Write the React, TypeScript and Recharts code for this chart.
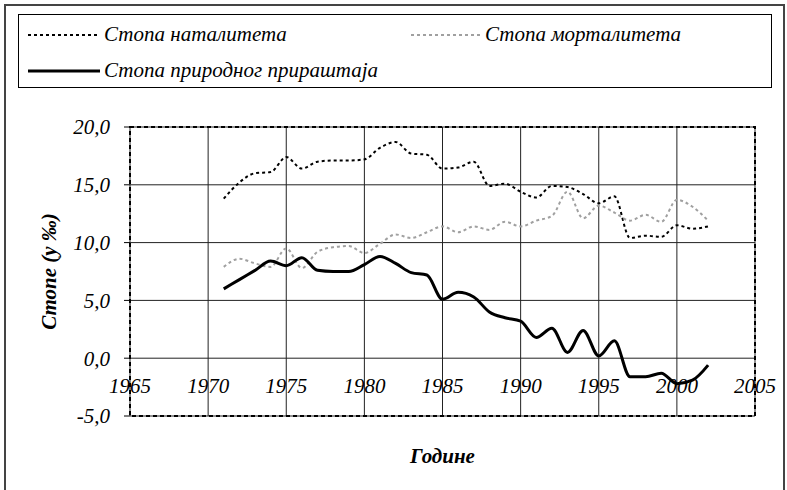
import React from 'react';
import {
  LineChart,
  Line,
  XAxis,
  YAxis,
  CartesianGrid,
  ReferenceArea
} from 'recharts';

// years 1971-2002
const years = [
  1971, 1972, 1973, 1974, 1975, 1976, 1977, 1978, 1979, 1980,
  1981, 1982, 1983, 1984, 1985, 1986, 1987, 1988, 1989, 1990,
  1991, 1992, 1993, 1994, 1995, 1996, 1997, 1998, 1999, 2000,
  2001, 2002
];

// стопа наталитета (‰)
const natality = [
  13.8, 15.2, 16.0, 16.1, 17.4, 16.4, 17.0, 17.1, 17.1, 17.2,
  18.2, 18.7, 17.7, 17.6, 16.4, 16.5, 17.0, 14.9, 15.1, 14.4,
  13.9, 14.9, 14.8, 14.2, 13.4, 14.0, 10.4, 10.6, 10.5, 11.5,
  11.2, 11.4
];

// стопа морталитета (‰)
const mortality = [
  7.9, 8.6, 8.2, 7.9, 9.5, 7.8, 9.2, 9.6, 9.7, 9.1,
  9.9, 10.7, 10.4, 10.9, 11.4, 10.9, 11.4, 11.1, 11.8, 11.4,
  11.9, 12.3, 14.4, 12.1, 13.2, 12.6, 11.9, 12.4, 11.8, 13.7,
  13.1, 11.9
];

// стопа природног прираштаја (‰)
const naturalIncrease = [
  6.0, 6.8, 7.6, 8.4, 8.0, 8.7, 7.6, 7.5, 7.5, 8.1,
  8.8, 8.2, 7.4, 7.2, 5.1, 5.7, 5.3, 4.0, 3.5, 3.2,
  1.8, 2.6, 0.5, 2.4, 0.2, 1.5, -1.6, -1.6, -1.3, -2.2,
  -1.9, -0.6
];

const xTicks = [1965, 1970, 1975, 1980, 1985, 1990, 1995, 2000, 2005];
const yTicks = [-5, 0, 5, 10, 15, 20];

const data = years.map((year, i) => ({
  year,
  natality: natality[i],
  mortality: mortality[i],
  increase: naturalIncrease[i]
}));

const FONT = '"Liberation Serif", "Times New Roman", serif';

const fmt = (v: number) => v.toFixed(1).replace('.', ',');

// x labels sit just under the zero line, not at the bottom of the plot
const XTick = ({ x, y, payload }: any) => (
  <text
    x={x}
    y={y - 31}
    textAnchor="middle"
    fontFamily={FONT}
    fontStyle="italic"
    fontSize={21}
    fill="#000"
  >
    {payload.value}
  </text>
);

const LegendItem = ({ color, width, dash, label, lineW = 76 }: any) => (
  <div style={{ display: 'flex', alignItems: 'center' }}>
    <svg width={lineW} height={10} style={{ marginRight: 2 }}>
      <line x1={2} y1={5} x2={lineW - 2} y2={5} stroke={color} strokeWidth={width} strokeDasharray={dash} />
    </svg>
    <span>{label}</span>
  </div>
);

export default function App() {
  return (
    <div style={{ position: 'relative', width: 787, height: 490, background: '#fff', overflow: 'hidden' }}>
      <style>{'body{margin:0}'}</style>
      <div
        style={{
          position: 'absolute',
          left: 4,
          top: 4,
          width: 777,
          height: 500,
          border: '2px solid #444'
        }}
      />
      <div
        style={{
          position: 'absolute',
          left: 18,
          top: 14,
          width: 752,
          height: 72,
          border: '1px solid #000',
          fontFamily: FONT,
          fontStyle: 'italic',
          fontSize: 21,
          color: '#000'
        }}
      >
        <div style={{ position: 'absolute', left: 7, top: 7 }}>
          <LegendItem color="#000" width={2} dash="3 3" label="Стопа наталитета" />
        </div>
        <div style={{ position: 'absolute', left: 390, top: 7 }}>
          <LegendItem color="#a0a0a0" width={2} dash="3 3" lineW={74} label="Стопа морталитета" />
        </div>
        <div style={{ position: 'absolute', left: 7, top: 43 }}>
          <LegendItem color="#000" width={3} label="Стопа природног прираштаја" />
        </div>
      </div>
      <div style={{ position: 'absolute', left: 0, top: 0 }}>
        <LineChart width={787} height={490} data={data} margin={{ top: 127, right: 32, left: 35, bottom: 14 }}>
          <CartesianGrid stroke="#222" strokeWidth={1} />
          <XAxis
            dataKey="year"
            type="number"
            domain={[1965, 2005]}
            ticks={xTicks}
            height={60}
            axisLine={false}
            tickLine={false}
            tick={<XTick />}
            label={{
              value: 'Године',
              position: 'insideBottom',
              offset: 13,
              style: { fontFamily: FONT, fontStyle: 'italic', fontWeight: 'bold', fontSize: 21, fill: '#000' }
            }}
          />
          <YAxis
            type="number"
            domain={[-5, 20]}
            ticks={yTicks}
            width={95}
            axisLine={false}
            tickLine={{ stroke: '#000' }}
            tickSize={6}
            tickMargin={14}
            tickFormatter={fmt}
            tick={{ fontFamily: FONT, fontStyle: 'italic', fontSize: 21, fill: '#000' }}
            label={{
              value: 'Стопе (у ‰)',
              angle: -90,
              position: 'insideLeft',
              offset: 14,
              style: { textAnchor: 'middle', fontFamily: FONT, fontStyle: 'italic', fontWeight: 'bold', fontSize: 21, fill: '#000' }
            }}
          />
          <ReferenceArea
            x1={1965}
            x2={2005}
            y1={-5}
            y2={20}
            fill="none"
            stroke="#000"
            strokeWidth={2}
            strokeDasharray="4 3"
          />
          <Line
            type="monotone"
            dataKey="natality"
            stroke="#000"
            strokeWidth={2}
            strokeDasharray="3 3"
            dot={false}
            isAnimationActive={false}
          />
          <Line
            type="monotone"
            dataKey="mortality"
            stroke="#a0a0a0"
            strokeWidth={2}
            strokeDasharray="3 3"
            dot={false}
            isAnimationActive={false}
          />
          <Line
            type="monotone"
            dataKey="increase"
            stroke="#000"
            strokeWidth={3}
            dot={false}
            isAnimationActive={false}
          />
        </LineChart>
      </div>
    </div>
  );
}
